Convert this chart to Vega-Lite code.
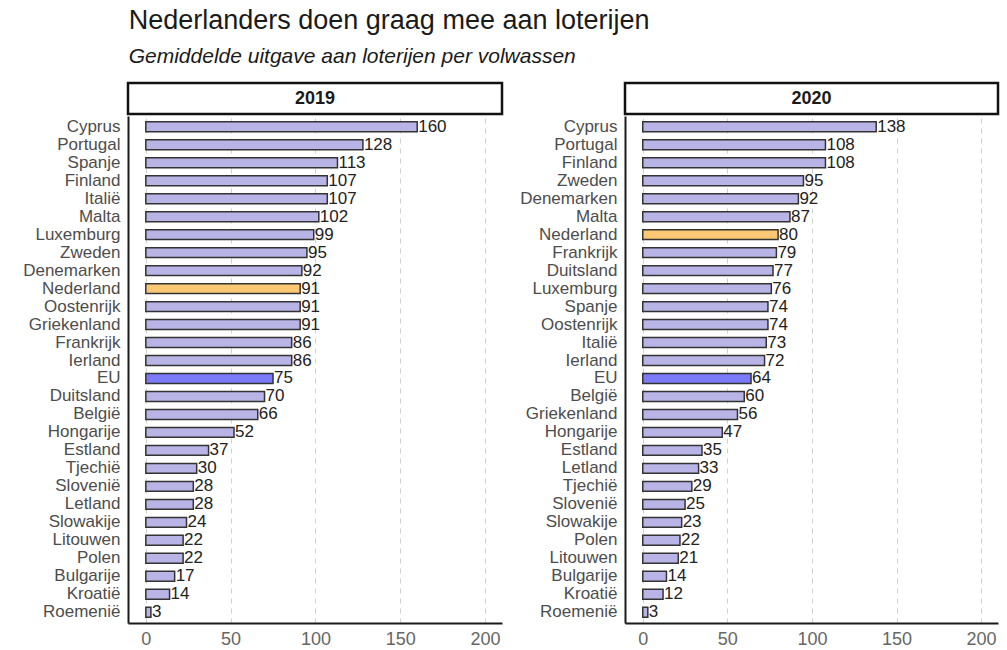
{
  "$schema": "https://vega.github.io/schema/vega-lite/v6.json",
  "background": "white",
  "padding": {"left": 22, "top": 6, "right": 3, "bottom": 2},
  "spacing": 15,
  "title": {
    "text": "Nederlanders doen graag mee aan loterijen",
    "subtitle": "Gemiddelde uitgave aan loterijen per volwassen",
    "anchor": "start",
    "dx": 106,
    "font": "Liberation Sans",
    "fontSize": 27,
    "fontWeight": "normal",
    "color": "#1a1a1a",
    "subtitleFont": "Liberation Sans",
    "subtitleFontSize": 21,
    "subtitleFontStyle": "italic",
    "subtitleColor": "#1a1a1a",
    "subtitlePadding": 11,
    "offset": 14
  },
  "datasets": {
    "d2019": [
      {"land": "Cyprus", "uitgave": 160, "groep": "land"},
      {"land": "Portugal", "uitgave": 128, "groep": "land"},
      {"land": "Spanje", "uitgave": 113, "groep": "land"},
      {"land": "Finland", "uitgave": 107, "groep": "land"},
      {"land": "Italië", "uitgave": 107, "groep": "land"},
      {"land": "Malta", "uitgave": 102, "groep": "land"},
      {"land": "Luxemburg", "uitgave": 99, "groep": "land"},
      {"land": "Zweden", "uitgave": 95, "groep": "land"},
      {"land": "Denemarken", "uitgave": 92, "groep": "land"},
      {"land": "Nederland", "uitgave": 91, "groep": "NL"},
      {"land": "Oostenrijk", "uitgave": 91, "groep": "land"},
      {"land": "Griekenland", "uitgave": 91, "groep": "land"},
      {"land": "Frankrijk", "uitgave": 86, "groep": "land"},
      {"land": "Ierland", "uitgave": 86, "groep": "land"},
      {"land": "EU", "uitgave": 75, "groep": "EU"},
      {"land": "Duitsland", "uitgave": 70, "groep": "land"},
      {"land": "België", "uitgave": 66, "groep": "land"},
      {"land": "Hongarije", "uitgave": 52, "groep": "land"},
      {"land": "Estland", "uitgave": 37, "groep": "land"},
      {"land": "Tjechië", "uitgave": 30, "groep": "land"},
      {"land": "Slovenië", "uitgave": 28, "groep": "land"},
      {"land": "Letland", "uitgave": 28, "groep": "land"},
      {"land": "Slowakije", "uitgave": 24, "groep": "land"},
      {"land": "Litouwen", "uitgave": 22, "groep": "land"},
      {"land": "Polen", "uitgave": 22, "groep": "land"},
      {"land": "Bulgarije", "uitgave": 17, "groep": "land"},
      {"land": "Kroatië", "uitgave": 14, "groep": "land"},
      {"land": "Roemenië", "uitgave": 3, "groep": "land"}
    ],
    "d2020": [
      {"land": "Cyprus", "uitgave": 138, "groep": "land"},
      {"land": "Portugal", "uitgave": 108, "groep": "land"},
      {"land": "Finland", "uitgave": 108, "groep": "land"},
      {"land": "Zweden", "uitgave": 95, "groep": "land"},
      {"land": "Denemarken", "uitgave": 92, "groep": "land"},
      {"land": "Malta", "uitgave": 87, "groep": "land"},
      {"land": "Nederland", "uitgave": 80, "groep": "NL"},
      {"land": "Frankrijk", "uitgave": 79, "groep": "land"},
      {"land": "Duitsland", "uitgave": 77, "groep": "land"},
      {"land": "Luxemburg", "uitgave": 76, "groep": "land"},
      {"land": "Spanje", "uitgave": 74, "groep": "land"},
      {"land": "Oostenrijk", "uitgave": 74, "groep": "land"},
      {"land": "Italië", "uitgave": 73, "groep": "land"},
      {"land": "Ierland", "uitgave": 72, "groep": "land"},
      {"land": "EU", "uitgave": 64, "groep": "EU"},
      {"land": "België", "uitgave": 60, "groep": "land"},
      {"land": "Griekenland", "uitgave": 56, "groep": "land"},
      {"land": "Hongarije", "uitgave": 47, "groep": "land"},
      {"land": "Estland", "uitgave": 35, "groep": "land"},
      {"land": "Letland", "uitgave": 33, "groep": "land"},
      {"land": "Tjechië", "uitgave": 29, "groep": "land"},
      {"land": "Slovenië", "uitgave": 25, "groep": "land"},
      {"land": "Slowakije", "uitgave": 23, "groep": "land"},
      {"land": "Polen", "uitgave": 22, "groep": "land"},
      {"land": "Litouwen", "uitgave": 21, "groep": "land"},
      {"land": "Bulgarije", "uitgave": 14, "groep": "land"},
      {"land": "Kroatië", "uitgave": 12, "groep": "land"},
      {"land": "Roemenië", "uitgave": 3, "groep": "land"}
    ],
    "headers": [{"jaar": "2019"}, {"jaar": "2020"}]
  },
  "config": {
    "font": "Liberation Sans",
    "view": {"stroke": null},
    "axis": {
      "labelFont": "Liberation Sans",
      "labelFontSize": 17,
      "labelColor": "#4d4d4d",
      "domainColor": "#1a1a1a",
      "domainWidth": 2,
      "ticks": false,
      "title": null
    }
  },
  "hconcat": [
    {
      "spacing": 0,
      "vconcat": [
        {
          "width": 374,
          "height": 31,
          "view": {"stroke": "#111111", "strokeWidth": 2.5},
          "data": {"name": "headers"},
          "transform": [{"filter": "datum.jaar == '2019'"}],
          "mark": {"type": "text", "fontSize": 18, "fontWeight": "bold", "color": "#1a1a1a", "font": "Liberation Sans", "baseline": "middle"},
          "encoding": {"text": {"field": "jaar"}}
        },
        {
          "width": 374,
          "height": 507,
          "data": {"name": "d2019"},
          "encoding": {
            "y": {
              "field": "land", "type": "nominal", "sort": null,
              "scale": {"paddingInner": 0.45, "paddingOuter": 0.325},
              "axis": {"labelPadding": 8, "domain": true}
            },
            "x": {
              "field": "uitgave", "type": "quantitative",
              "scale": {"domain": [-10.5, 210], "nice": false, "zero": false},
              "axis": {"values": [0, 50, 100, 150, 200], "grid": true, "gridDash": [5, 5], "gridColor": "#d0d0d0", "gridWidth": 1, "labelPadding": 7, "labelFlush": false, "labelColor": "#666666", "labelFontSize": 18}
            }
          },
          "layer": [
            {
              "mark": {"type": "bar", "stroke": "#333333", "strokeWidth": 1.5},
              "encoding": {
                "x2": {"datum": 0},
                "color": {
                  "field": "groep", "type": "nominal", "legend": null,
                  "scale": {"domain": ["land", "NL", "EU"], "range": ["#b8b4e6", "#fdc874", "#7b7bfa"]}
                }
              }
            },
            {
              "mark": {"type": "text", "align": "left", "baseline": "middle", "dx": 1, "fontSize": 17, "color": "#222222", "font": "Liberation Sans"},
              "encoding": {"text": {"field": "uitgave", "type": "quantitative"}}
            }
          ]
        }
      ]
    },
    {
      "spacing": 0,
      "vconcat": [
        {
          "width": 373,
          "height": 31,
          "view": {"stroke": "#111111", "strokeWidth": 2.5},
          "data": {"name": "headers"},
          "transform": [{"filter": "datum.jaar == '2020'"}],
          "mark": {"type": "text", "fontSize": 18, "fontWeight": "bold", "color": "#1a1a1a", "font": "Liberation Sans", "baseline": "middle"},
          "encoding": {"text": {"field": "jaar"}}
        },
        {
          "width": 373,
          "height": 507,
          "data": {"name": "d2020"},
          "encoding": {
            "y": {
              "field": "land", "type": "nominal", "sort": null,
              "scale": {"paddingInner": 0.45, "paddingOuter": 0.325},
              "axis": {"labelPadding": 8, "domain": true}
            },
            "x": {
              "field": "uitgave", "type": "quantitative",
              "scale": {"domain": [-10.5, 210], "nice": false, "zero": false},
              "axis": {"values": [0, 50, 100, 150, 200], "grid": true, "gridDash": [5, 5], "gridColor": "#d0d0d0", "gridWidth": 1, "labelPadding": 7, "labelFlush": false, "labelColor": "#666666", "labelFontSize": 18}
            }
          },
          "layer": [
            {
              "mark": {"type": "bar", "stroke": "#333333", "strokeWidth": 1.5},
              "encoding": {
                "x2": {"datum": 0},
                "color": {
                  "field": "groep", "type": "nominal", "legend": null,
                  "scale": {"domain": ["land", "NL", "EU"], "range": ["#b8b4e6", "#fdc874", "#7b7bfa"]}
                }
              }
            },
            {
              "mark": {"type": "text", "align": "left", "baseline": "middle", "dx": 1, "fontSize": 17, "color": "#222222", "font": "Liberation Sans"},
              "encoding": {"text": {"field": "uitgave", "type": "quantitative"}}
            }
          ]
        }
      ]
    }
  ]
}
